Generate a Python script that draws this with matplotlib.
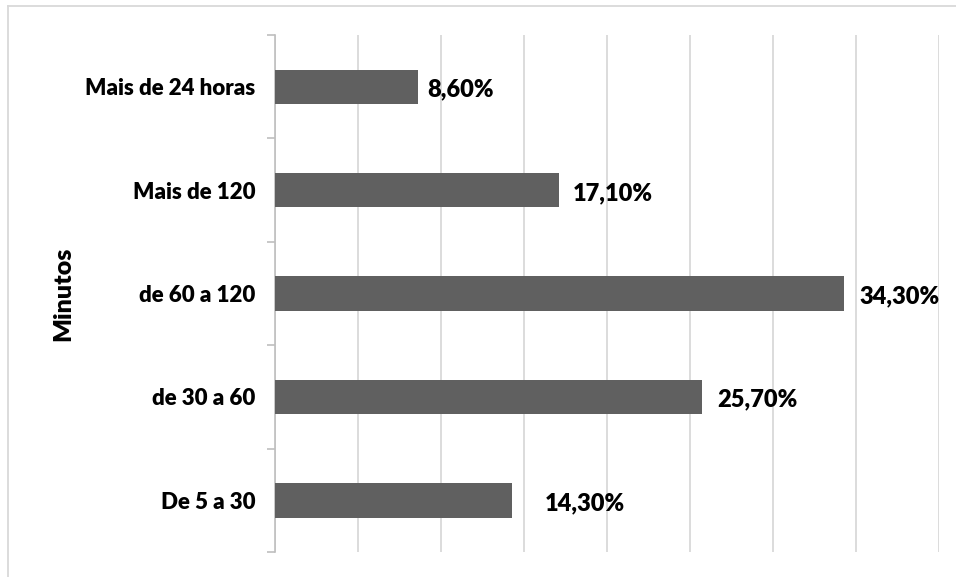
import matplotlib
matplotlib.use("Agg")
import matplotlib.pyplot as plt
import numpy as np
from matplotlib.ticker import FixedLocator, MultipleLocator

plt.rcParams["font.family"] = ["Lato", "DejaVu Sans"]

# Response time categories (bottom to top) and share of answers in %
categorias = ["De 5 a 30", "de 30 a 60", "de 60 a 120", "Mais de 120", "Mais de 24 horas"]
percentuais = [14.3, 25.7, 34.3, 17.1, 8.6]
rotulos = ["14,30%", "25,70%", "34,30%", "17,10%", "8,60%"]

# horizontal offset of each value label from the bar end, in points
deslocamento = [23, 11, 11, 10, 7]

fig = plt.figure(figsize=(9.56, 5.77), dpi=100)
ax = fig.add_axes([0.2877, 0.0433, 0.9822 - 0.2877, 0.9393 - 0.0433])

y = np.arange(len(categorias))
barras = ax.barh(y, percentuais, height=0.333, color="#606060", zorder=3)

for b, txt, dx in zip(barras, rotulos, deslocamento):
    ax.annotate(txt, (b.get_width(), b.get_y() + b.get_height() / 2),
                xytext=(dx, -2), textcoords="offset points",
                ha="left", va="center", fontsize=17, fontweight="heavy",
                color="#000000")

ax.set_xlim(0, 40)
ax.set_ylim(-0.5, len(categorias) - 0.5)
ax.xaxis.set_major_locator(MultipleLocator(5))
ax.grid(axis="x", color="#d9d9d9", linewidth=1.3, zorder=0)
ax.tick_params(axis="x", length=0, labelbottom=False)

ax.set_yticks(y)
ax.set_yticklabels(categorias, fontsize=16, fontweight="heavy")
ax.yaxis.set_minor_locator(FixedLocator(np.arange(-0.5, len(categorias), 1)))
ax.tick_params(axis="y", which="major", length=0, pad=14)
ax.tick_params(axis="y", which="minor", length=6, color="#bfbfbf", width=1.2)

for lado in ["top", "right", "bottom"]:
    ax.spines[lado].set_visible(False)
ax.spines["left"].set_color("#bfbfbf")
ax.spines["left"].set_linewidth(1.2)

ax.set_ylabel("Minutos", fontsize=18, fontweight="heavy", labelpad=0)
ax.yaxis.set_label_coords(-0.303, 0.5)

# chart area frame (only top and left edges fall inside the image)
fig.add_artist(plt.Line2D([7.5 / 956, 1], [1 - 5.5 / 577, 1 - 5.5 / 577],
                          transform=fig.transFigure, color="#d9d9d9", linewidth=1.3))
fig.add_artist(plt.Line2D([7.5 / 956, 7.5 / 956], [0, 1 - 5.5 / 577],
                          transform=fig.transFigure, color="#d9d9d9", linewidth=1.3))

fig.savefig("out.png", dpi=100)
